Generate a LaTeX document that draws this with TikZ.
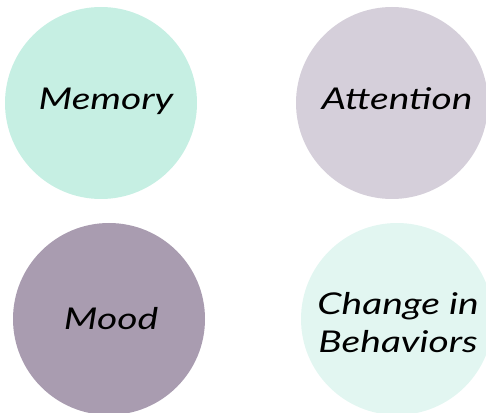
\documentclass[tikz,border=0pt]{standalone}
\usepackage{fontspec}
\setmainfont{Lato}
\definecolor{cmem}{HTML}{C6EFE3}
\definecolor{catt}{HTML}{D5CFDA}
\definecolor{cmood}{HTML}{A99CB0}
\definecolor{cchg}{HTML}{E2F6F1}
\begin{document}
\begin{tikzpicture}[x=1pt,y=1pt,
  bubble/.style={circle,draw=none,minimum size=192pt,inner sep=0pt},
  lbl/.style={font=\fontsize{30}{38}\selectfont\itshape,align=center,text=black,inner sep=0pt,xscale=1.3,transform shape}]
\clip (0,0) rectangle (486,412);
\node[bubble,fill=cmem] (mem) at (101,309) {};
\node[bubble,fill=catt] (att) at (392,309) {};
\node[bubble,fill=cmood] (mood) at (109,93) {};
\node[bubble,fill=cchg] (chg) at (397,93) {};
\node[lbl] (tmem) at ([xshift=5pt,yshift=2pt]mem.center) {Memory};
\node[lbl] (tatt) at ([xshift=5pt,yshift=4pt]att.center) {Attention};
\node[lbl] (tmood) at ([xshift=2pt,yshift=0pt]mood.center) {Mood};
\node[lbl] (tchg) at ([xshift=1pt,yshift=-4pt]chg.center) {Change in\\Behaviors};
\end{tikzpicture}
\end{document}
